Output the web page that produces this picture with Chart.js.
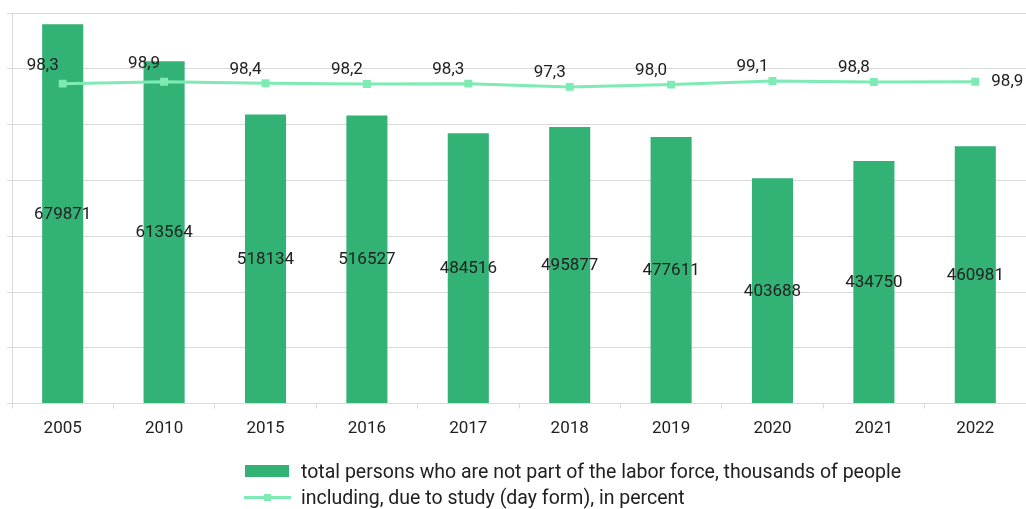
<!DOCTYPE html>
<html>
<head>
<meta charset="utf-8">
<script src="https://cdn.jsdelivr.net/npm/chart.js@4.4.0/dist/chart.umd.min.js"></script>
<style>
  html, body { margin: 0; padding: 0; background: #fff; }
  #wrap { position: relative; width: 1026px; height: 509px; font-family: Roboto, sans-serif; }
  #legend { position: absolute; left: 245px; top: 458px; font-size: 19.5px; color: #212121; }
  .row { display: flex; align-items: center; height: 26px; }
  .swatch { position: relative; width: 44px; height: 12px; margin-right: 12px; flex: none; }
  .bar-swatch { background: #32b275; }
  .line-swatch::before { content: ''; position: absolute; left: -1px; right: -2px; top: 5px; height: 3px; background: #7debb3; }
  .line-swatch::after { content: ''; position: absolute; left: 19px; top: 3px; width: 7px; height: 7px; background: #7debb3; }
</style>
</head>
<body>
<div id="wrap">
  <canvas id="chart" width="1026" height="509"></canvas>
  <div id="legend"></div>
</div>
<script>
const years = ['2005', '2010', '2015', '2016', '2017', '2018', '2019', '2020', '2021', '2022'];
// not in the labor force, thousands of people
const totalPersons = [679871, 613564, 518134, 516527, 484516, 495877, 477611, 403688, 434750, 460981];
// share of them out because of full-time study, %
const studyShare = [98.3, 98.9, 98.4, 98.2, 98.3, 97.3, 98.0, 99.1, 98.8, 98.9];

const barName = 'total persons who are not part of the labor force, thousands of people';
const lineName = 'including, due to study (day form), in percent';

const barColor = '#32b275';
const lineColor = '#7debb3';
const textColor = '#212121';
const font = 'Roboto, sans-serif';

// draws the numbers: bar values in the middle of the bars, percents up-left of the points
const valueLabels = {
  id: 'valueLabels',
  afterDatasetsDraw(chart) {
    const ctx = chart.ctx;
    ctx.save();
    ctx.font = '17px ' + font;
    ctx.fillStyle = textColor;
    ctx.textAlign = 'center';
    ctx.textBaseline = 'middle';

    chart.getDatasetMeta(1).data.forEach((bar, i) => {
      ctx.fillText(String(totalPersons[i]), bar.x, (bar.y + bar.base) / 2 + 1);
    });

    const pts = chart.getDatasetMeta(0).data;
    pts.forEach((pt, i) => {
      const txt = studyShare[i].toFixed(1).replace('.', ',');
      if (i === pts.length - 1) {
        ctx.fillText(txt, pt.x + 32, pt.y);
      } else {
        const lift = i < 2 ? 18 : 14;
        ctx.fillText(txt, pt.x - 20, pt.y - lift);
      }
    });
    ctx.restore();
  }
};

const chart = new Chart(document.getElementById('chart'), {
  type: 'bar',
  data: {
    labels: years,
    datasets: [
      {
        type: 'line',
        label: lineName,
        data: studyShare,
        yAxisID: 'y1',
        borderColor: lineColor,
        backgroundColor: lineColor,
        borderWidth: 3,
        pointStyle: 'rect',
        pointRadius: 3.5,
        pointHoverRadius: 3.5,
        tension: 0,
        order: 0
      },
      {
        label: barName,
        data: totalPersons,
        yAxisID: 'y',
        backgroundColor: barColor,
        barPercentage: 0.405,
        categoryPercentage: 1,
        order: 1
      }
    ]
  },
  options: {
    responsive: false,
    animation: false,
    devicePixelRatio: 1,
    layout: { autoPadding: false, padding: { left: 7, right: 0, top: 13, bottom: 60 } },
    plugins: {
      legend: { display: false },
      tooltip: { enabled: false }
    },
    scales: {
      x: {
        grid: { drawOnChartArea: false, tickLength: 5, color: '#d9d9d9' },
        border: { color: '#d9d9d9' },
        ticks: { color: textColor, font: { family: font, size: 17 }, padding: 10 }
      },
      y: {
        min: 0,
        max: 700000,
        ticks: { display: false, stepSize: 100000 },
        grid: { tickLength: 5, color: '#d9d9d9' },
        border: { color: '#d9d9d9' }
      },
      y1: {
        display: false,
        min: 0,
        max: 120
      }
    }
  },
  plugins: [valueLabels]
});

// legend rows, both starting at the same left edge
document.getElementById('legend').innerHTML =
  '<div class="row"><span class="swatch bar-swatch"></span>' + barName + '</div>' +
  '<div class="row"><span class="swatch line-swatch"></span>' + lineName + '</div>';
</script>
</body>
</html>
